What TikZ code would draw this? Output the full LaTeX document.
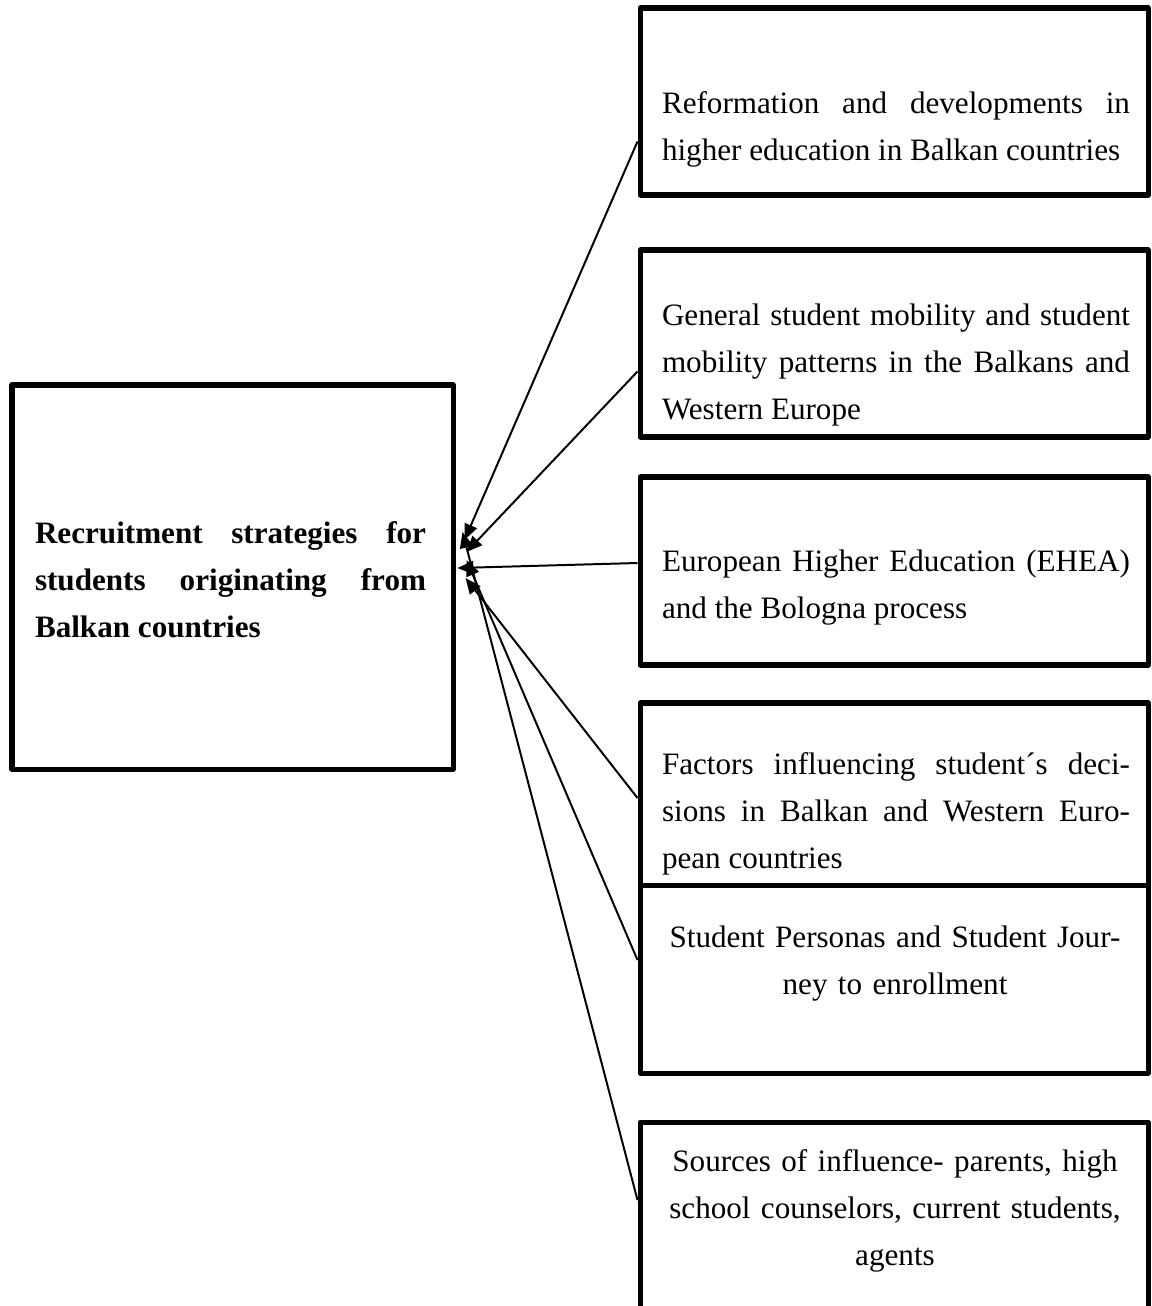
\documentclass[tikz,border=0pt]{standalone}
\usepackage{fontspec}
\setmainfont{Liberation Serif}
\usetikzlibrary{arrows.meta}
\usetikzlibrary{calc}
\newcommand{\pxu}{0.379pt}
\begin{document}
\begin{tikzpicture}[x=0.379pt, y=-0.379pt,
	box/.style={draw, black, line width=1.9pt, line join=round, inner sep=0pt, minimum width={508*\pxu}},
	txt/.style={inner sep=0pt, text width={468*\pxu}, align=justify, font=\fontsize{11.8}{17.8}\selectfont},
	conn/.style={-{Triangle[length=6pt, width=5pt]}, black, line width=0.75pt}]
	\useasboundingbox (0,0) rectangle (1152,1306);
	% main box
	\node[box, minimum width={441*\pxu}, minimum height={384*\pxu}] (m) at (232.5,577) {};
	\node[txt, text width={391*\pxu}, font=\fontsize{11.8}{17.8}\selectfont\bfseries] (tm) at (230.5,580) {Recruitment strategies for\linebreak students originating from\linebreak Balkan countries};
	% right boxes
	\node[box, minimum height={187*\pxu}] (b1) at (894,101.5) {};
	\node[box, minimum height={187*\pxu}] (b2) at (894,343.5) {};
	\node[box, minimum height={188*\pxu}] (b3) at (894,571) {};
	\node[box, minimum height={182*\pxu}] (b4) at (894,794) {};
	\node[box, minimum height={188*\pxu}] (b5) at (894,979) {};
	\node[box, minimum height={208*\pxu}] (b6) at (894,1226) {};
	\node[txt] (t1) at (896,129) {Reformation and developments in\linebreak higher education in Balkan countries};
	\node[txt] (t2) at (896,365) {General student mobility and student\linebreak mobility patterns in the Balkans and\linebreak Western Europe};
	\node[txt] (t3) at (896,588) {European Higher Education (EHEA)\linebreak and the Bologna process};
	\node[txt] (t4) at (896,814) {Factors influencing student´s deci-\linebreak sions in Balkan and Western Euro-\linebreak pean countries};
	\node[txt, align=center] (t5) at (895,964) {Student Personas and Student Jour-\\ney to enrollment};
	\node[txt, align=center] (t6) at (895,1211) {Sources of influence- parents, high\\school counselors, current students,\\agents};
	% arrows into the main box
	\draw[conn] ($(b1.west)+(0,40)$) to ($(m.east)+(9,-37)$);
	\draw[conn] ($(b2.west)+(0,28)$) to ($(m.east)+(11,-25)$);
	\draw[conn] ($(b3.west)+(0,-8)$) to ($(m.east)+(2,-9)$);
	\draw[conn] ($(b4.west)+(0,4)$) to ($(m.east)+(10,1)$);
	\draw[conn] ($(b5.west)+(0,-19)$) to ($(m.east)+(11,-17)$);
	\draw[conn] ($(b6.west)+(0,-26)$) to ($(m.east)+(7,-45)$);
\end{tikzpicture}
\end{document}
